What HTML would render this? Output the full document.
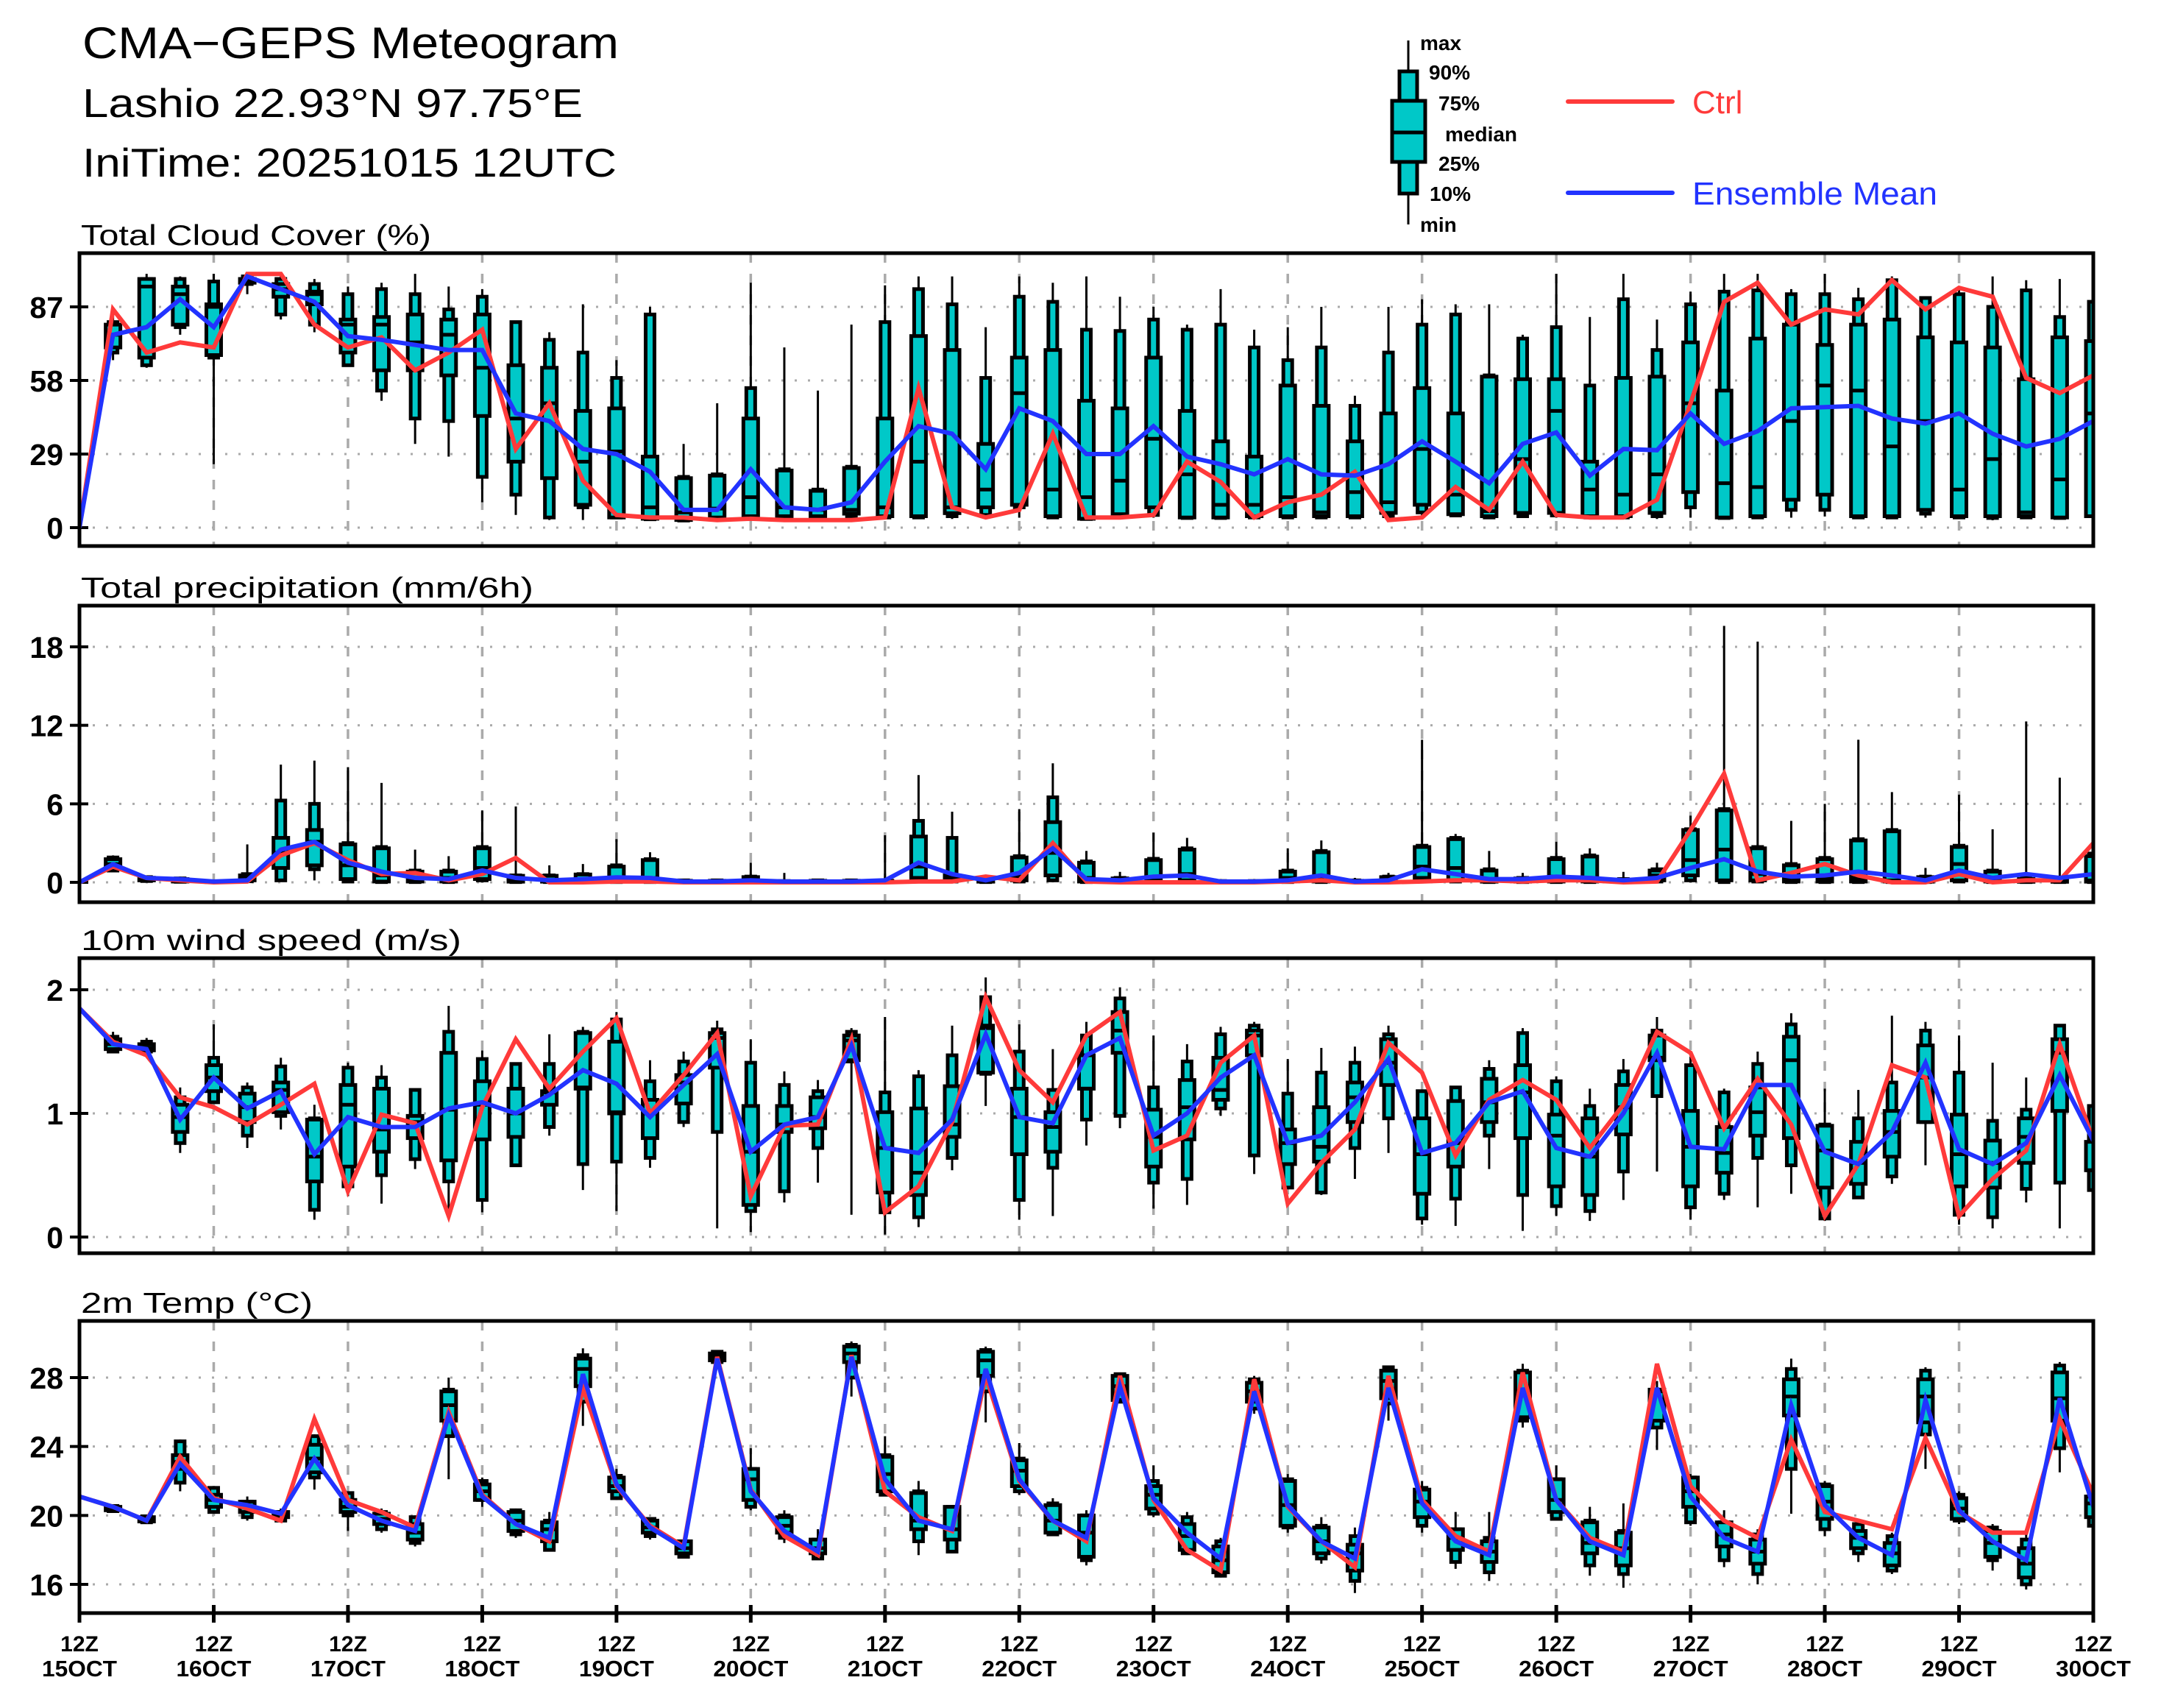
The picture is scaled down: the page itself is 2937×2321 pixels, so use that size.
<!DOCTYPE html>
<html><head><meta charset="utf-8"><title>CMA-GEPS Meteogram</title>
<style>
html,body{margin:0;padding:0;background:#fff;}
svg{display:block;font-family:"Liberation Sans",sans-serif;}
</style></head>
<body>
<svg id="chart" width="2937" height="2321" viewBox="0 0 2937 2321" xmlns="http://www.w3.org/2000/svg">
<rect x="0" y="0" width="2937" height="2321" fill="#fff"/>
<text x="112" y="79" font-size="60" textLength="729" lengthAdjust="spacingAndGlyphs">CMA−GEPS Meteogram</text>
<text x="112" y="159" font-size="55" textLength="680" lengthAdjust="spacingAndGlyphs">Lashio 22.93°N 97.75°E</text>
<text x="112" y="240" font-size="55" textLength="726" lengthAdjust="spacingAndGlyphs">IniTime: 20251015 12UTC</text>
<g id="legend">
  <line x1="1914" y1="55" x2="1914" y2="305" stroke="#000" stroke-width="3"/>
  <rect x="1902" y="97" width="24" height="166" fill="#00c8c8" stroke="#000" stroke-width="5"/>
  <rect x="1892" y="137" width="45" height="83" fill="#00c8c8" stroke="#000" stroke-width="5"/>
  <line x1="1892" y1="180" x2="1937" y2="180" stroke="#000" stroke-width="5"/>
  <g font-weight="bold" font-size="28">
    <text x="1930" y="68">max</text>
    <text x="1942" y="108">90%</text>
    <text x="1955" y="150">75%</text>
    <text x="1964" y="192">median</text>
    <text x="1955" y="232">25%</text>
    <text x="1943" y="273">10%</text>
    <text x="1930" y="315">min</text>
  </g>
  <line x1="2131" y1="138" x2="2273" y2="138" stroke="#ff3a3a" stroke-width="6" stroke-linecap="round"/>
  <text x="2300" y="154" font-size="44" fill="#ff3a3a">Ctrl</text>
  <line x1="2131" y1="262" x2="2273" y2="262" stroke="#2233ff" stroke-width="6" stroke-linecap="round"/>
  <text x="2300" y="278" font-size="44" fill="#2233ff" textLength="333" lengthAdjust="spacingAndGlyphs">Ensemble Mean</text>
</g>
</svg>
<script>
// ---------- data: steps 1..60 (6-hourly) for boxes, 0..60 for lines ----------
const cloudMax=[84,100,99,100,100,100,98,95,96.5,100,95,94,81,77,88,66,87,33,49,96.5,71,54,80,95.5,99,99,79,99,96.5,99,91,87,80,94,78,79,87,52,87,90,88,88,76,100,83,100,82,93,100,100,94,100,94.5,99,91,95,99,97.5,98,89];
const cloudP90=[81,98,98,97,99,98,96,92,94,92,86,91,81,74,69,59,84,20,21,55,23,15,24,81,94,88,59,91,89,78,77.5,82,78,80,71,66,71,48,69,80,84,60,74.5,79,56,90,70,88,93,93.5,92,92,90,97.5,90.5,92,87,93.5,83,89];
const cloudP75=[80,98,95,88,98,96,93,82,83,84,82,84,64,63,46,47,28,19.5,20.5,43,22.5,14.5,23.5,43,75.5,70,33,67,70,50,47,67,46,34,28,56,48,34,45,55,45,59.5,58.5,58.5,26,59,59.5,73,54,74.5,80,72,80,82,75,73,71,58.5,75,73.5];
const cloudMed=[76,95,92,87,97.5,94,92,80,80,73,76,63,43,49,26,30,8,6,7.5,12,8,7,7,8,26,8,15,53,15,12,18.5,35,21,9,9,12,6,14,10,31,13,6.5,27,46,15,13,21,49,17.5,16,42,56,54,32,42,15,27,6,19,45];
const cloudP25=[71,67,80,68,96.5,91,88,69,62,62,60,44,26,19.5,9,4,3.5,3,4,4.5,4.5,4.5,5.5,4.5,4.5,5.7,8,9,4.5,3.5,5.3,8,4,4,4.5,4.5,4.5,4.5,5.8,9,5.3,4.5,5.8,5.8,4.5,4.5,5.8,14,4,4.5,11,13,4.5,4.5,7,4.5,4.5,4.5,4,4.5];
const cloudP10=[69,64,79,67,96,84,80,64,54,43,42,20,13,4,8,4,3.3,2.8,3.5,4,4,4,4.5,4,4,4.5,5,8,4,3.4,4.8,5,3.8,3.8,4,4,4,4,4.5,6,4.8,4,4.5,4.8,4,4,4.5,8,3.8,4,7,7,4,4,5.5,4,3.8,4,3.8,4.5];
const cloudMin=[66,63,76,25,92,82,77,64,50,33,28,10,5,3,3,4,3,3,3,3.5,3.8,3.4,3.9,3.4,3.4,3.4,3.4,3.9,3.9,3.4,4.4,3.9,3.4,3.4,3.4,3.9,3.9,3.9,3.4,3.9,4.4,3.4,3.9,3.9,3.4,3.9,3.4,3.9,3.4,3.4,3.9,4.4,3.4,3.4,3.9,3.4,2.9,3.4,3.4,4.4];
const cloudCtrl=[0,86,69,73,71,100,100,80,71,75,62,69,78,31,49,18.5,5,4,4,3,3.5,3,3,3,4,55,8,4,7,37,4,4,5,26,18,4,10,13,22,3,4,16,7,26,5,4,4,11,49,89,96.5,80,86,84,97.5,86,94.5,91,59,53,60];
const cloudMean=[0,76,79,90,79,99,94,89,75.5,74,72,70,70,45,42,31,29,22,7,7,23,8,7,10,26,40,37,23,47,42,29,29,40,28,25,21,27,21,20.5,25,34,26,17.5,33,37.5,20.5,31,30.5,45,33,38,47,47.5,48,43,41,45,37,32,35,42];

const precMax=[2.06,0.5,0.44,0.1,2.9,9.0,9.3,8.8,7.6,2.5,2.0,5.5,5.8,1.3,1.4,3.3,2.3,0.25,0.2,1.5,0.72,0.25,0.25,3.6,8.2,5.4,0.34,5.6,9.1,2.4,0.8,3.8,3.4,0.25,0.25,2.6,3.2,0.34,0.72,10.9,3.7,2.4,0.72,3.1,2.6,0.8,1.5,5.1,19.6,18.4,4.7,6.0,10.9,6.9,1.1,6.7,4.06,12.3,8.0,3.0];
const precP90=[1.9,0.4,0.3,0.08,0.63,6.25,6.0,3.0,2.7,0.9,0.9,2.7,0.53,0.53,0.63,1.3,1.77,0.15,0.15,0.44,0.1,0.15,0.15,0.15,4.7,3.4,0.15,2.0,6.5,1.6,0.34,1.8,2.6,0.1,0.1,0.9,2.4,0.15,0.44,2.8,3.4,1.0,0.34,1.87,2.06,0.25,1.0,4.06,5.6,2.7,1.4,1.87,3.3,4.0,0.44,2.8,0.9,0.34,0.15,2.2];
const precP75=[1.77,0.35,0.25,0.06,0.53,3.4,4.0,2.9,2.6,0.82,0.82,2.6,0.5,0.5,0.6,1.2,1.7,0.12,0.12,0.4,0.08,0.12,0.12,0.12,3.5,0.53,0.12,1.9,4.6,1.5,0.3,1.7,2.5,0.08,0.08,0.82,2.3,0.12,0.4,2.7,3.3,0.9,0.3,1.77,1.97,0.2,0.9,4.0,5.5,2.6,1.3,1.77,3.2,3.9,0.4,2.7,0.82,0.25,0.12,2.0];
const precMed=[1.39,0.2,0.15,0.04,0.34,2.25,3.1,1.3,0.53,0.34,0.34,1.1,0.15,0.15,0.15,0.34,0.34,0.1,0.1,0.15,0.06,0.08,0.08,0.08,1.2,0.34,0.1,0.44,2.25,0.34,0.15,0.34,0.63,0.05,0.05,0.34,0.34,0.1,0.15,1.2,1.1,0.15,0.15,0.44,0.34,0.1,0.53,1.7,2.5,0.63,0.34,0.34,0.34,0.15,0.15,1.4,0.25,0.12,0.1,0.15];
const precP25=[1.1,0.15,0.06,0.02,0.15,1.1,1.3,0.25,0.06,0.06,0.06,0.25,0.05,0.05,0.05,0.06,0.06,0.04,0.04,0.05,0.03,0.03,0.03,0.03,0.34,0.15,0.05,0.15,0.53,0.06,0.05,0.06,0.15,0.02,0.02,0.06,0.06,0.04,0.05,0.34,0.15,0.05,0.05,0.06,0.06,0.04,0.15,0.53,0.15,0.15,0.06,0.06,0.06,0.06,0.05,0.15,0.06,0.04,0.04,0.05];
const precP10=[0.9,0.1,0.04,0.01,0.08,0.15,1.0,0.06,0.02,0.02,0.02,0.15,0.02,0.02,0.02,0.02,0.02,0.02,0.02,0.02,0.01,0.01,0.01,0.01,0.15,0.06,0.02,0.06,0.15,0.02,0.02,0.02,0.06,0.01,0.01,0.02,0.02,0.02,0.02,0.1,0.06,0.02,0.02,0.02,0.02,0.02,0.06,0.15,0.02,0.06,0.02,0.02,0.02,0.02,0.02,0.06,0.02,0.02,0.02,0.02];
const precMin=[0.8,0.05,0.02,0,0,0.06,0.15,0,0,0,0,0,0,0,0,0,0,0,0,0,0,0,0,0,0,0,0,0,0,0,0,0,0,0,0,0,0,0,0,0,0,0,0,0,0,0,0,0,0,0,0,0,0,0,0,0,0,0,0,0];
const precCtrl=[0,1.2,0.34,0.15,0,0.06,2.06,3.0,1.7,0.63,0.72,0.15,0.63,1.87,0,0,0.06,0.06,0,0,0,0,0,0,0,0.06,0.06,0.44,0.15,3.0,0.06,0,0,0,0,0,0.06,0.15,0,0,0.06,0.15,0.15,0.06,0.15,0.15,0,0.06,4.0,8.3,0.15,0.72,1.4,0.53,0,0,0.63,0,0.15,0.15,3.0];
const precMean=[0,1.39,0.34,0.25,0.06,0.15,2.5,3.1,1.5,0.82,0.34,0.25,0.91,0.34,0.15,0.25,0.38,0.34,0.06,0.06,0.15,0.06,0.06,0.06,0.15,1.5,0.63,0.15,0.72,2.6,0.25,0.15,0.44,0.53,0.06,0.06,0.15,0.53,0.06,0.15,1.0,0.63,0.25,0.25,0.44,0.34,0.15,0.34,1.1,1.77,0.82,0.44,0.53,0.82,0.53,0.15,0.91,0.34,0.63,0.34,0.63];

const windMax=[1.66,1.61,1.21,1.72,1.25,1.45,1.07,1.41,1.39,1.20,1.87,1.51,1.41,1.64,1.70,1.82,1.43,1.50,1.75,1.60,1.34,1.27,1.69,1.78,1.35,1.71,2.10,1.72,1.52,1.74,2.02,1.63,1.56,1.70,1.74,1.44,1.53,1.54,1.71,1.19,1.22,1.43,1.69,1.30,1.20,1.44,1.78,1.46,1.20,1.50,1.81,1.20,1.19,1.79,1.74,1.63,1.41,1.29,1.72,1.33];
const windP90=[1.62,1.58,1.13,1.45,1.21,1.38,0.96,1.37,1.29,1.19,1.66,1.44,1.40,1.40,1.66,1.76,1.26,1.42,1.68,1.41,1.23,1.18,1.66,1.17,1.30,1.47,1.94,1.50,1.19,1.63,1.93,1.21,1.42,1.64,1.71,1.16,1.33,1.41,1.64,1.18,1.21,1.36,1.65,1.26,1.06,1.34,1.67,1.39,1.17,1.40,1.72,0.91,0.96,1.25,1.67,1.33,0.94,1.03,1.71,1.06];
const windP75=[1.60,1.56,1.07,1.39,1.16,1.25,0.95,1.23,1.20,0.98,1.49,1.26,1.20,1.18,1.65,1.58,1.11,1.31,1.65,1.06,1.06,1.13,1.63,1.01,1.04,1.22,1.71,1.20,1.01,1.47,1.82,1.03,1.27,1.45,1.67,0.87,1.05,1.25,1.60,0.96,1.10,1.28,1.39,0.99,0.96,1.23,1.63,1.02,0.89,1.21,1.62,0.90,0.77,1.02,1.55,0.99,0.78,0.96,1.60,0.77];
const windMed=[1.56,1.53,0.97,1.29,1.05,1.19,0.65,1.07,0.87,0.93,1.03,1.07,1.0,1.17,1.21,1.01,1.0,1.25,1.61,0.69,0.91,0.97,1.59,0.72,0.52,0.91,1.69,0.97,0.89,1.20,1.67,0.81,1.05,1.19,1.63,0.76,0.73,1.13,1.41,0.67,0.76,1.09,1.17,0.82,0.65,1.05,1.45,0.73,0.68,1.01,1.43,0.70,0.60,0.85,1.29,0.67,0.60,0.81,1.49,0.54];
const windP25=[1.52,1.51,0.85,1.18,0.93,1.01,0.45,0.57,0.69,0.80,0.62,0.79,0.81,1.07,1.20,1.0,0.80,1.08,1.37,0.26,0.85,0.88,1.43,0.36,0.34,0.81,1.33,0.67,0.69,1.20,1.49,0.57,0.79,1.11,1.47,0.59,0.61,0.93,1.23,0.35,0.57,0.93,0.80,0.41,0.34,0.83,1.43,0.41,0.52,0.82,0.80,0.40,0.43,0.65,0.93,0.41,0.40,0.60,1.02,0.54];
const windP10=[1.50,1.50,0.76,1.09,0.82,0.98,0.22,0.41,0.50,0.63,0.45,0.30,0.58,0.89,0.59,0.61,0.64,0.93,0.85,0.21,0.37,0.72,1.42,0.20,0.16,0.64,1.32,0.30,0.56,0.95,0.98,0.44,0.47,1.04,0.66,0.40,0.36,0.72,0.96,0.15,0.31,0.82,0.34,0.25,0.21,0.53,1.14,0.24,0.35,0.64,0.58,0.15,0.32,0.49,0.93,0.18,0.16,0.39,0.44,0.38];
const windMin=[1.49,1.49,0.68,1.08,0.72,0.87,0.14,0.33,0.27,0.55,0.17,0.20,0.58,0.82,0.38,0.21,0.56,0.89,0.07,0.04,0.28,0.44,0.18,0.02,0.08,0.54,1.06,0.14,0.17,0.74,0.88,0.23,0.26,0.98,0.51,0.39,0.34,0.47,0.68,0.10,0.09,0.55,0.05,0.17,0.13,0.30,0.53,0.14,0.30,0.24,0.35,0.13,0.31,0.43,0.58,0.10,0.07,0.28,0.07,0.37];
const windCtrl=[1.85,1.58,1.47,1.13,1.05,0.91,1.07,1.24,0.37,0.99,0.92,0.17,1.05,1.60,1.20,1.50,1.77,1.0,1.31,1.65,0.33,0.90,0.91,1.60,0.20,0.41,0.93,1.94,1.35,1.09,1.63,1.82,0.70,0.82,1.41,1.63,0.27,0.60,0.87,1.57,1.33,0.66,1.11,1.27,1.11,0.72,1.07,1.66,1.49,0.88,1.28,0.91,0.17,0.59,1.39,1.29,0.17,0.47,0.70,1.56,0.78];
const windMean=[1.85,1.56,1.52,0.95,1.29,1.04,1.18,0.67,0.97,0.89,0.89,1.04,1.09,1.0,1.15,1.35,1.24,0.97,1.23,1.48,0.69,0.91,0.97,1.55,0.72,0.68,0.95,1.64,0.97,0.92,1.47,1.61,0.82,1.0,1.29,1.47,0.76,0.82,1.09,1.44,0.68,0.76,1.09,1.18,0.72,0.65,1.0,1.49,0.73,0.71,1.23,1.23,0.69,0.59,0.85,1.41,0.71,0.59,0.76,1.31,0.78];

const tempMax=[20.6,19.9,24.4,21.7,21.1,20.4,24.7,21.4,20.4,20.0,28.0,22.2,20.4,20.2,29.7,22.7,19.8,18.6,29.6,23.9,20.3,19.2,30.1,24.6,22.0,20.6,29.8,24.2,21.0,20.3,28.3,22.9,20.2,18.7,28.1,22.4,19.9,19.3,28.7,22.0,20.2,20.2,28.8,22.9,20.5,20.7,27.8,22.4,20.3,19.2,29.1,22.0,19.6,19.0,28.6,21.4,19.5,19.2,28.9,21.5];
const tempP90=[20.55,19.95,24.3,21.6,20.8,20.2,24.6,21.3,20.2,19.9,27.3,22.0,20.3,19.7,29.3,22.3,19.8,18.5,29.5,22.7,20.0,18.6,29.9,23.5,21.4,20.5,29.6,23.3,20.7,20.0,28.2,22.0,19.9,18.5,27.9,22.1,19.4,18.8,28.6,21.6,19.2,18.7,28.4,22.1,19.7,19.1,27.3,22.2,19.6,18.9,28.5,21.8,19.5,18.8,28.4,21.2,19.3,18.6,28.7,21.3];
const tempP75=[20.5,19.9,23.5,21.2,20.8,20.2,24.1,20.9,20.1,19.5,27.2,21.8,20.2,19.6,29.1,22.2,19.7,18.5,29.4,22.7,19.9,18.6,29.8,23.4,21.3,20.5,29.5,23.2,20.6,20.0,28.1,21.7,19.5,18.2,27.7,22.0,19.3,18.3,28.4,21.5,19.2,18.5,28.3,22.1,19.6,19.0,27.3,22.2,19.6,18.6,27.9,21.7,19.1,18.4,27.9,21.0,19.1,18.1,28.3,21.1];
const tempMed=[20.4,19.75,23.1,20.9,20.5,20.0,23.3,20.5,19.8,19.0,26.4,21.4,19.7,19.2,28.5,21.7,19.3,18.1,29.2,22.1,19.4,18.1,29.4,22.4,19.7,19.2,29.0,22.6,19.7,19.0,27.5,21.2,18.8,17.4,27.2,20.6,18.5,17.8,27.8,20.8,18.7,17.9,27.2,20.9,18.4,18.1,27.2,21.4,18.9,17.9,26.9,20.8,18.7,17.8,26.9,20.4,18.4,17.2,26.8,20.7];
const tempP25=[20.3,19.65,22.7,20.5,20.2,19.9,22.5,20.2,19.5,18.6,25.5,20.9,19.1,18.5,27.5,21.4,19.0,17.8,29.0,20.9,19.0,17.8,28.9,21.4,19.2,18.6,28.1,21.7,19.0,17.6,26.7,20.4,18.0,16.7,26.6,19.4,17.8,16.8,26.8,19.9,18.0,17.3,25.7,20.2,17.8,17.1,25.5,20.5,18.2,17.2,25.8,19.8,18.1,17.1,25.4,19.8,17.6,16.4,25.5,19.9];
const tempP10=[20.25,19.6,21.9,20.2,19.9,19.7,22.2,20.0,19.2,18.4,24.6,20.9,18.9,18.0,26.6,21.0,18.8,17.6,28.9,20.5,18.7,17.5,28.0,21.2,18.5,17.9,27.2,21.4,18.9,17.4,26.6,20.1,17.8,16.5,26.2,19.3,17.5,16.2,26.5,19.4,17.3,16.7,25.5,19.8,17.1,16.6,25.1,19.6,17.4,16.6,22.7,19.2,17.8,16.8,24.7,19.7,17.4,16.0,23.9,19.4];
const tempMin=[20.2,19.55,21.4,20.1,19.7,19.6,21.5,19.1,19.0,18.2,22.1,20.5,18.7,18.0,25.2,20.9,18.6,17.5,28.7,20.3,18.4,17.5,26.9,21.2,17.7,17.8,25.4,21.2,18.8,17.1,26.6,19.9,17.7,16.4,25.9,19.0,17.2,15.5,25.5,19.0,16.9,16.2,25.1,19.7,16.5,15.8,23.8,19.4,17.0,16.0,20.1,18.8,17.3,16.6,22.7,19.5,16.8,15.7,22.5,19.3];
const tempCtrl=[21.1,20.5,19.7,23.4,21.0,20.4,19.7,25.6,20.9,20.2,19.3,26.0,21.2,19.5,18.5,27.4,21.7,19.4,18.2,29.2,21.5,18.8,17.7,29.3,21.4,19.9,19.1,28.1,22.0,19.7,18.5,28.1,20.9,18.0,16.8,27.9,20.5,18.5,17.0,28.1,20.9,18.8,17.9,28.3,20.9,18.7,17.9,28.8,21.7,19.7,18.7,24.4,20.2,19.7,19.2,24.5,20.2,19.0,19.0,25.6,21.2];
const tempMean=[21.1,20.5,19.7,23.0,20.9,20.6,20.1,23.3,20.6,19.7,19.1,25.8,21.1,19.5,18.7,28.2,21.8,19.3,18.1,29.1,21.4,19.1,17.9,29.2,22.1,19.7,19.2,28.5,22.1,19.7,18.7,27.5,21.0,19.0,17.5,27.2,20.6,18.5,17.5,27.4,20.7,18.5,17.7,27.4,20.9,18.5,17.7,27.4,21.1,18.7,17.9,26.4,20.6,18.7,17.7,26.7,20.3,18.5,17.4,26.8,20.5];

const cloudTicks=[0,29,58,87];
const precTicks=[0,6,12,18];
const windTicks=[0,1,2];
const tempTicks=[16,20,24,28];
const dayLabels=["15OCT","16OCT","17OCT","18OCT","19OCT","20OCT","21OCT","22OCT","23OCT","24OCT","25OCT","26OCT","27OCT","28OCT","29OCT","30OCT"];
const nSteps=60;

// ---------- layout ----------
const NS="http://www.w3.org/2000/svg";
const svg=document.getElementById('chart');
const X0=108, X1=2845;
function xs(step){return X0+(X1-X0)*step/nSteps;}
function mk(tag,attrs,parent){const e=document.createElementNS(NS,tag);for(const k in attrs)e.setAttribute(k,attrs[k]);(parent||svg).appendChild(e);return e;}

const panels=[
 {key:'cloud',title:'Total Cloud Cover (%)',titleW:476,top:344,bottom:742,y0:717,v0:0,y1:417,v1:87,ticks:cloudTicks,
  mn:cloudMin,p10:cloudP10,p25:cloudP25,md:cloudMed,p75:cloudP75,p90:cloudP90,mx:cloudMax,ctrl:cloudCtrl,mean:cloudMean},
 {key:'precip',title:'Total precipitation (mm/6h)',titleW:615,top:823,bottom:1226,y0:1199,v0:0,y1:879,v1:18,ticks:precTicks,
  mn:precMin,p10:precP10,p25:precP25,md:precMed,p75:precP75,p90:precP90,mx:precMax,ctrl:precCtrl,mean:precMean},
 {key:'wind',title:'10m wind speed (m/s)',titleW:517,top:1302,bottom:1703,y0:1681,v0:0,y1:1345,v1:2,ticks:windTicks,
  mn:windMin,p10:windP10,p25:windP25,md:windMed,p75:windP75,p90:windP90,mx:windMax,ctrl:windCtrl,mean:windMean},
 {key:'temp',title:'2m Temp (°C)',titleW:315,top:1795,bottom:2192,y0:2153,v0:16,y1:1872,v1:28,ticks:tempTicks,
  mn:tempMin,p10:tempP10,p25:tempP25,md:tempMed,p75:tempP75,p90:tempP90,mx:tempMax,ctrl:tempCtrl,mean:tempMean}
];

panels.forEach(function(p,pi){
  const ys=function(v){return p.y0+(v-p.v0)*(p.y1-p.y0)/(p.v1-p.v0);};
  const g=mk('g',{});
  
  
  const clip=mk('clipPath',{id:'clip-'+p.key},g);
  mk('rect',{x:X0,y:p.top,width:X1-X0,height:p.bottom-p.top},clip);

  const t=mk('text',{x:110,y:p.top-11,'font-size':39,textLength:p.titleW,lengthAdjust:'spacingAndGlyphs'},g);
  t.textContent=p.title;
  
  

  p.ticks.forEach(function(v){
    const y=ys(v);
    const gl=mk('line',{x1:X0,x2:X1,y1:y,y2:y,stroke:'#aaaaaa','stroke-width':3,'stroke-dasharray':'3 15'},g);
    
    
    const tk=mk('line',{x1:X0-13,x2:X0+12,y1:y,y2:y,stroke:'#000','stroke-width':4},g);
    
    
    const lb=mk('text',{x:86,y:y+15,'font-size':41,'font-weight':'bold','text-anchor':'end'},g);
    lb.textContent=String(v);
    
    
  });
  for(let d=1;d<dayLabels.length-1;d++){
    const x=xs(d*4);
    const vl=mk('line',{x1:x,x2:x,y1:p.top,y2:p.bottom,stroke:'#aaaaaa','stroke-width':3.5,'stroke-dasharray':'13 15'},g);
    
    
  }
  const bg=mk('g',{'clip-path':'url(#clip-'+p.key+')'},g);
  
  
  for(let i=0;i<nSteps;i++){
    const x=xs(i+1);
    const bx=mk('g',{},bg);
    
    
    mk('line',{x1:x,x2:x,y1:ys(p.mn[i]),y2:ys(p.mx[i]),stroke:'#000','stroke-width':3},bx);
    const a=ys(p.p90[i]),b=ys(p.p10[i]);
    mk('rect',{x:x-6,y:Math.min(a,b),width:12,height:Math.max(Math.abs(b-a),0.5),fill:'#00c8c8',stroke:'#000','stroke-width':5},bx);
    const c=ys(p.p75[i]),d=ys(p.p25[i]);
    mk('rect',{x:x-10,y:Math.min(c,d),width:20,height:Math.max(Math.abs(d-c),0.5),fill:'#00c8c8',stroke:'#000','stroke-width':5},bx);
    const m=ys(p.md[i]);
    mk('line',{x1:x-10,x2:x+10,y1:m,y2:m,stroke:'#000','stroke-width':5},bx);
  }
  function series(arr,color,name){
    let dstr='';
    for(let i=0;i<arr.length;i++){dstr+=(i?'L':'M')+xs(i).toFixed(1)+','+ys(arr[i]).toFixed(1);}
    const pl=mk('path',{d:dstr,fill:'none',stroke:color,'stroke-width':6,'stroke-linejoin':'miter','clip-path':'url(#clip-'+p.key+')'},g);
    
    
  }
  series(p.ctrl,'#ff3a3a',p.key+'-ctrl-line');
  series(p.mean,'#2233ff',p.key+'-mean-line');
  const br=mk('rect',{x:X0,y:p.top,width:X1-X0,height:p.bottom-p.top,fill:'none',stroke:'#000','stroke-width':5},g);
  
  

  if(pi===panels.length-1){
    for(let d=0;d<dayLabels.length;d++){
      const x=xs(d*4);
      const tk=mk('line',{x1:x,x2:x,y1:p.bottom-11,y2:p.bottom+13,stroke:'#000','stroke-width':5},g);
      
      
      const l1=mk('text',{x:x,y:2244,'font-size':30,'font-weight':'bold','text-anchor':'middle'},g);
      l1.textContent='12Z';
      
      
      const l2=mk('text',{x:x,y:2278,'font-size':31,'font-weight':'bold','text-anchor':'middle',textLength:102,lengthAdjust:'spacingAndGlyphs'},g);
      l2.textContent=dayLabels[d];
      
      
    }
  }
});
</script>
</body></html>
